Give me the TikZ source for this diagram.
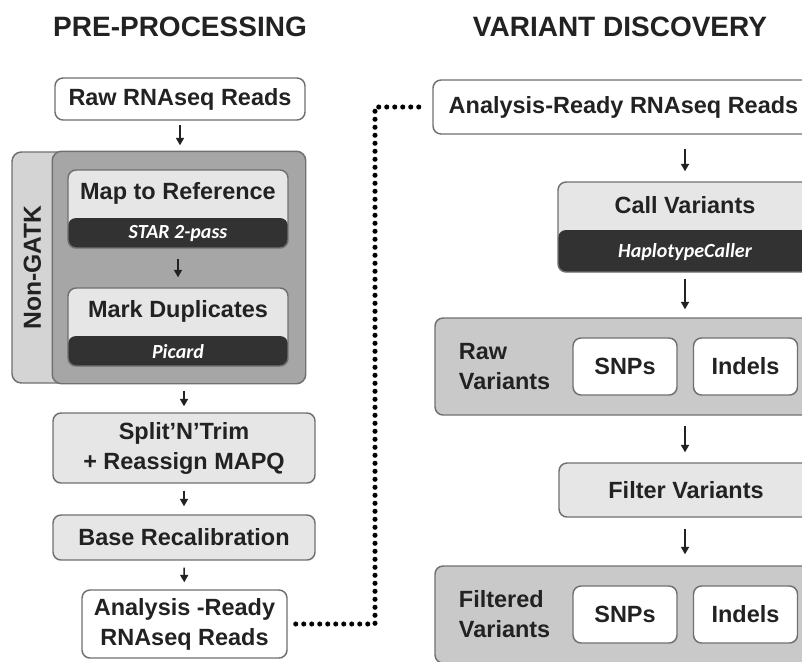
\documentclass[tikz,border=0pt]{standalone}
\usepackage{fontspec}
\setmainfont{Liberation Sans}
\newfontfamily\toolfont{Carlito}
\usepackage{tikz}
\usetikzlibrary{positioning, arrows.meta, calc}
\definecolor{boxlight}{RGB}{230,230,230}
\definecolor{groupfill}{RGB}{201,201,201}
\definecolor{stripfill}{RGB}{212,212,212}
\definecolor{gatkdark}{RGB}{166,166,166}
\definecolor{bardark}{RGB}{50,50,50}
\definecolor{linegray}{RGB}{112,112,112}
\definecolor{textcol}{RGB}{34,34,34}

\begin{document}
\begin{tikzpicture}[x=0.75pt, y=-0.75pt,
        every node/.style={font=\bfseries\fontsize{17.6}{22.5}\selectfont, text=textcol},
        title/.style={font=\bfseries\fontsize{21}{25}\selectfont},
        stepbox/.style={draw=linegray, line width=1.1pt, rounded corners=6pt, fill=boxlight, align=center, inner sep=2pt},
        groupbox/.style={stepbox, fill=groupfill, minimum width=284.25pt, minimum height=72.75pt},
        smallbox/.style={stepbox, fill=white, minimum width=78pt, minimum height=42.75pt},
        toolbox/.style={stepbox, path picture={\fill[bardark] (path picture bounding box.south west) rectangle ([yshift=#1]path picture bounding box.south east);}},
        tooltxt/.style={font=\toolfont\bfseries\itshape\fontsize{15}{18}\selectfont, text=white},
        arr/.style={-{Triangle[length=5.5pt, width=6pt]}, line width=1.1pt, draw=textcol},
        dotline/.style={line width=3.8pt, line cap=round, dash pattern=on 0pt off 6pt, draw=black}]
      \useasboundingbox (0,0) rectangle (802,661);
      \clip (0,0) rectangle (802,661);

      % pre-processing
      \node[title] (pretitle) at (180,27) {PRE-PROCESSING};
      \node[stepbox, fill=white, minimum width=187.5pt, minimum height=31.5pt] (raw) at (180,99) {Raw RNAseq Reads};
      \node[draw=linegray, line width=1.1pt, fill=stripfill, rounded corners=7pt, minimum width=219.75pt, minimum height=173.25pt] (nongatk) at (158.5,267.5) {};
      \filldraw[draw=linegray, line width=1.1pt, fill=gatkdark, rounded corners=7pt] ([xshift=30.75pt]nongatk.north west) rectangle (nongatk.south east);
      \node[rotate=90, font=\bfseries\fontsize{18.5}{22}\selectfont] (gatklbl) at ([xshift=15.75pt]nongatk.west) {Non-GATK};
      \node[toolbox=22.5pt, minimum width=165pt, minimum height=58.5pt] (map) at (178,209) {};
      \node (maptxt) at ([yshift=-18pt]map.north) {Map to Reference};
      \node[tooltxt] (maptool) at ([yshift=11.25pt]map.south) {STAR 2-pass};
      \node[toolbox=22.5pt, minimum width=165pt, minimum height=58.5pt] (mark) at (178,327) {};
      \node (marktxt) at ([yshift=-18pt]mark.north) {Mark Duplicates};
      \node[tooltxt] (marktool) at ([yshift=11.25pt]mark.south) {Picard};
      \node[stepbox, minimum width=196.5pt, minimum height=52.5pt] (split) at (184,448) {Split’N’Trim\\+ Reassign MAPQ};
      \node[stepbox, minimum width=196.5pt, minimum height=33.75pt] (base) at (184,537.5) {Base Recalibration};
      \node[stepbox, fill=white, minimum width=153.75pt, minimum height=51pt] (arready) at (184.5,624) {Analysis -Ready\\RNAseq Reads};

      % variant discovery
      \node[title] (vartitle) at (620,27) {VARIANT DISCOVERY};
      \node[stepbox, fill=white, minimum width=285.75pt, minimum height=40.5pt] (rready) at (623.5,107) {Analysis-Ready RNAseq Reads};
      \node[toolbox=31.5pt, minimum width=190.5pt, minimum height=67.5pt] (call) at (685,227) {};
      \node (calltxt) at ([yshift=-18pt]call.north) {Call Variants};
      \node[tooltxt] (calltool) at ([yshift=15.75pt]call.south) {HaplotypeCaller};
      \node[groupbox] (rawv) at (624.5,366.5) {};
      \node[anchor=west, align=left] (rawvlbl) at ([xshift=15pt]rawv.west) {Raw\\Variants};
      \node[smallbox] (rsnp) at (625,366.5) {SNPs};
      \node[smallbox] (rind) at (745.5,366.5) {Indels};
      \node[stepbox, minimum width=190.5pt, minimum height=40.5pt] (filter) at (686,490) {Filter Variants};
      \node[groupbox] (filtv) at (624.5,614.5) {};
      \node[anchor=west, align=left] (filtvlbl) at ([xshift=15pt]filtv.west) {Filtered\\Variants};
      \node[smallbox] (fsnp) at (625,614.5) {SNPs};
      \node[smallbox] (find) at (745.5,614.5) {Indels};

      \draw[arr, shorten <=3pt, shorten >=4.5pt] (raw.south) -- (raw.south |- nongatk.north);
      \draw[arr, shorten <=7.5pt, shorten >=7.5pt] (map.south) -- (mark.north);
      \draw[arr, shorten <=5.25pt, shorten >=4.5pt] (split.north |- nongatk.south) -- (split.north);
      \draw[arr, shorten <=5.25pt, shorten >=6pt] (split) -- (base);
      \draw[arr, shorten <=5.25pt, shorten >=5.25pt] (base) -- (arready);
      \draw[arr, shorten <=10.5pt, shorten >=7.5pt] (call.north |- rready.south) -- (call.north);
      \draw[arr, shorten <=4.5pt, shorten >=6pt] (call.south) -- (call.south |- rawv.north);
      \draw[arr, shorten <=7.5pt, shorten >=7.5pt] (call.south |- rawv.south) -- (call.south |- filter.north);
      \draw[arr, shorten <=8.25pt, shorten >=8.25pt] (call.south |- filter.south) -- (call.south |- filtv.north);

      \coordinate (bend) at (375,107);
      \draw[dotline, shorten <=6pt, shorten >=7pt] (arready.east) -| (bend) -- (rready.west);
    \end{tikzpicture}
\end{document}
